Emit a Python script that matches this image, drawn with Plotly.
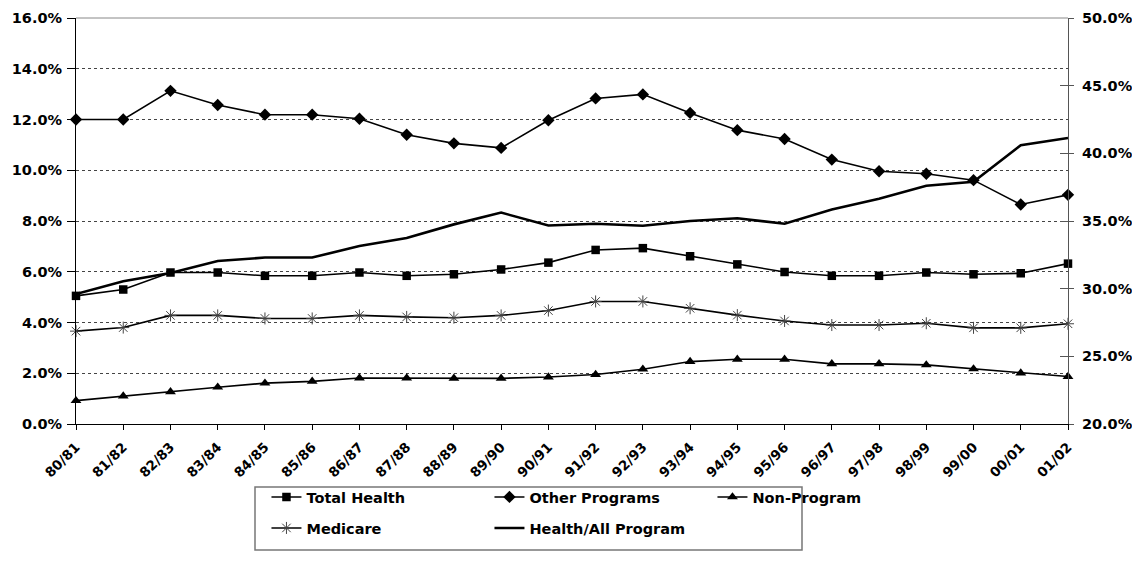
import plotly.graph_objects as go

years = ["80/81", "81/82", "82/83", "83/84", "84/85", "85/86", "86/87", "87/88", "88/89", "89/90",
         "90/91", "91/92", "92/93", "93/94", "94/95", "95/96", "96/97", "97/98", "98/99", "99/00",
         "00/01", "01/02"]

total_health = [5.05, 5.3, 5.97, 5.97, 5.84, 5.84, 5.97, 5.84, 5.9, 6.09,
                6.36, 6.86, 6.93, 6.61, 6.29, 5.99, 5.84, 5.84, 5.97, 5.9,
                5.94, 6.32]
other_programs = [12.0, 12.0, 13.13, 12.57, 12.19, 12.19, 12.03, 11.4, 11.06, 10.88,
                  11.97, 12.83, 12.99, 12.26, 11.58, 11.23, 10.42, 9.96, 9.86, 9.61,
                  8.65, 9.03]
non_program = [0.92, 1.1, 1.27, 1.45, 1.61, 1.68, 1.81, 1.81, 1.8, 1.8,
               1.85, 1.95, 2.16, 2.46, 2.55, 2.55, 2.37, 2.37, 2.33, 2.17,
               2.01, 1.87]
medicare = [3.66, 3.8, 4.28, 4.28, 4.16, 4.16, 4.28, 4.22, 4.19, 4.28,
            4.47, 4.83, 4.83, 4.56, 4.29, 4.06, 3.9, 3.9, 3.97, 3.79,
            3.79, 3.95]
health_all = [29.6, 30.55, 31.15, 32.05, 32.3, 32.3, 33.15, 33.75, 34.75, 35.62,
              34.67, 34.8, 34.65, 35.0, 35.2, 34.8, 35.85, 36.65, 37.6, 37.9,
              40.6, 41.13]

left_ticks = [0, 2, 4, 6, 8, 10, 12, 14, 16]
right_ticks = [20, 25, 30, 35, 40, 45, 50]
left_labels = [f"{v:.1f}%" for v in left_ticks]
right_labels = [f"{v:.1f}%" for v in right_ticks]

x = list(range(len(years)))
FONT = "DejaVu Sans"

fig = go.Figure()

def add(name, y, symbol, size, width, legend, yaxis="y", mcolor="black", mline=0):
    fig.add_trace(go.Scatter(
        x=x, y=y, name=name, mode="lines+markers" if symbol else "lines",
        line=dict(color="black", width=width),
        marker=dict(symbol=symbol or "circle", size=size, color=mcolor,
                    line=dict(color=mcolor, width=mline)),
        yaxis=yaxis, legend=legend, cliponaxis=False,
    ))

add("Total Health", total_health, "square", 8.5, 1.6, "legend")
add("Other Programs", other_programs, "diamond", 9.5, 1.6, "legend")
add("Non-Program", non_program, "triangle-up", 9.5, 1.6, "legend")
add("Medicare", medicare, "asterisk-open", 10, 1.6, "legend2", mcolor="#444", mline=1)
add("Health/All Program", health_all, None, 6, 2.6, "legend2", yaxis="y2")

# invisible trace to carry the inside tick marks of the right axis
fig.add_trace(go.Scatter(x=[0], y=[20], yaxis="y3", showlegend=False,
                         mode="markers", marker=dict(opacity=0), hoverinfo="skip"))

tickfont = dict(family=FONT, size=14.5, color="black", weight="bold")
legfont = dict(family=FONT, size=14.5, color="black", weight="bold")

W, H = 1132, 563
L, T, PW, PH = 68, 10, 992, 406

fig.update_layout(
    width=W, height=H,
    margin=dict(l=L, r=W - L - PW, t=T, b=H - T - PH, autoexpand=False),
    paper_bgcolor="white", plot_bgcolor="white",
    showlegend=True,
    xaxis=dict(
        range=[0, len(years) - 1], tickmode="array", tickvals=x, ticktext=years,
        tickangle=-45, tickfont=dict(family=FONT, size=13.5, color="black", weight="bold"),
        ticks="outside", ticklen=5, tickcolor="black", ticklabelstandoff=4,
        showline=True, linecolor="black", linewidth=1, showgrid=False, zeroline=False,
        ticklabeloverflow="allow",
    ),
    yaxis=dict(
        range=[0, 16], tickmode="array", tickvals=left_ticks, ticktext=left_labels,
        tickfont=tickfont, ticks="outside", ticklen=8, tickcolor="black",
        ticklabelstandoff=2, ticklabeloverflow="allow",
        showline=True, linecolor="black", linewidth=1,
        showgrid=True, gridcolor="#444", griddash="3px,3px", gridwidth=1, zeroline=False,
    ),
    yaxis2=dict(
        range=[20, 50], tickmode="array", tickvals=right_ticks, ticktext=right_labels,
        tickfont=tickfont, overlaying="y", side="right",
        ticks="outside", ticklen=5, tickcolor="#555",
        ticklabelstandoff=5, ticklabeloverflow="allow",
        showline=True, linecolor="#555", linewidth=1, showgrid=False, zeroline=False,
    ),
    yaxis3=dict(
        range=[20, 50], tickmode="array", tickvals=right_ticks, overlaying="y", side="right",
        ticks="inside", ticklen=8, tickcolor="#555", showticklabels=False,
        showline=False, showgrid=False, zeroline=False,
    ),
    legend=dict(
        orientation="h", x=0.192, y=(T + PH - 489) / PH, xanchor="left", yanchor="middle",
        entrywidth=178, entrywidthmode="pixels", bgcolor="rgba(0,0,0,0)",
        font=legfont, itemwidth=30,
    ),
    legend2=dict(
        orientation="h", x=0.192, y=(T + PH - 520) / PH, xanchor="left", yanchor="middle",
        entrywidth=178, entrywidthmode="pixels", bgcolor="rgba(0,0,0,0)",
        font=legfont, itemwidth=30,
    ),
    shapes=[
        dict(type="line", xref="paper", yref="paper", x0=0, x1=1, y0=1, y1=1,
             line=dict(color="#888", width=1)),
        dict(type="rect", xref="paper", yref="paper",
             x0=(247 - L) / PW, x1=(794 - L) / PW,
             y0=(T + PH - 479) / PH, y1=(T + PH - 542) / PH,
             line=dict(color="#777", width=1.5), fillcolor="rgba(0,0,0,0)"),
    ],
)

fig.write_html("out.html")
